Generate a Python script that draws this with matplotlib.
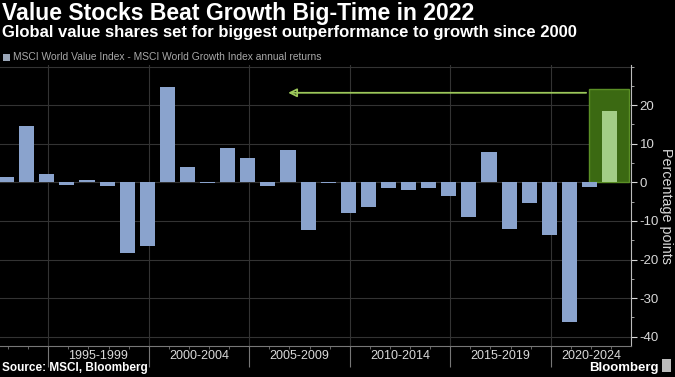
import numpy as np
import matplotlib.pyplot as plt
from matplotlib.patches import Rectangle
from matplotlib.transforms import blended_transform_factory

# annual value-minus-growth return spread, 1992..2022 (percentage points)
years = list(range(1992, 2023))
spread = [1.5, 14.7, 2.2, -0.7, 0.6, -0.9, -18.4, -16.6, 24.8, 4.0,
          -0.2, 8.8, 6.4, -1.0, 8.4, -12.3, -0.2, -7.9, -6.4, -1.4,
          -1.9, -1.5, -3.5, -8.9, 7.9, -12.2, -5.4, -13.7, -36.2, -1.1,
          18.6]
periods = ["1995-1999", "2000-2004", "2005-2009", "2010-2014", "2015-2019", "2020-2024"]
period_starts = [1995, 2000, 2005, 2010, 2015, 2020]
yticks = [20, 10, 0, -10, -20, -30, -40]

BG = "black"
BLUE = "#8aa3cd"
GREEN_BAR = "#a3cd86"
TXT = "#d9d9d9"
GRID = "#333333"

plt.rcParams["font.family"] = ["Liberation Sans", "DejaVu Sans"]

fig = plt.figure(figsize=(6.75, 3.77), dpi=100, facecolor=BG)
ax = fig.add_axes([0.0, 0.0822, 0.935, 0.7454], facecolor=BG)

# bloomberg plots annual points at year end
xpos = np.array(years) + 0.93
colors = [BLUE] * (len(years) - 1) + [GREEN_BAR]

# highlight box behind the 2022 bar
ax.add_patch(Rectangle((2021.9, 0), 1.98, 24.1, facecolor="#3b6912",
                       edgecolor="#5b8f26", lw=1.0, zorder=1))
ax.bar(xpos, spread, width=0.75, color=colors, zorder=2)

# arrow pointing back to 2000
ax.annotate("", xy=(2006.8, 23.2), xytext=(2021.9, 23.2),
            arrowprops=dict(arrowstyle="-|>,head_length=0.5,head_width=0.25",
                            color="#9cc75a", lw=1.3, fill=False),
            zorder=3)

# grid
for b in period_starts:
    ax.axvline(b, color=GRID, lw=0.8, zorder=0)
for v in range(30, -50, -10):
    ax.axhline(v, color=GRID, lw=0.8, zorder=0)

for s in ["top", "left"]:
    ax.spines[s].set_visible(False)
ax.spines["right"].set_color("#bbbbbb")
ax.spines["bottom"].set_color("#777777")

ax.yaxis.tick_right()
ax.set_yticks(yticks)
ax.set_yticklabels([str(t) for t in yticks])
ax.set_yticks(np.arange(-40, 31, 5), minor=True)
ax.tick_params(axis="y", which="major", colors=TXT, labelsize=9.5, length=4, pad=2)
ax.tick_params(axis="y", which="minor", colors="#bbbbbb", length=2.5)
ax.yaxis.set_label_position("right")
ax.set_ylabel("Percentage points", color=TXT, fontsize=10.3, rotation=-90, labelpad=10)

ax.set_xticks(period_starts)
ax.set_xticklabels([])
ax.set_xticks(np.arange(1993, 2024), minor=True)
ax.tick_params(axis="x", which="major", colors="#777777", length=15, width=0.8)
ax.tick_params(axis="x", which="minor", colors="#777777", length=2)

ax.set_xlim(1992.6, 2024.0)
ax.set_ylim(-42.4, 30.4)

# period labels centred on the visible part of each 5-year span
trans = blended_transform_factory(ax.transData, ax.transAxes)
xmax = ax.get_xlim()[1]
for p, s in zip(periods, period_starts):
    mid = (s + min(s + 5, xmax)) / 2
    ax.text(mid, -0.013, p, transform=trans, ha="center", va="top",
            color=TXT, fontsize=9)

# titles
fig.text(0.003, 0.995, "Value Stocks Beat Growth Big-Time in 2022", color="white",
         fontsize=16.6, fontweight="bold", ha="left", va="top")
fig.text(0.003, 0.935, "Global value shares set for biggest outperformance to growth since 2000",
         color="white", fontsize=12, fontweight="bold", ha="left", va="top")
fig.patches.append(Rectangle((0.005, 0.838), 0.010, 0.018, transform=fig.transFigure,
                             facecolor="#9aa6b8", edgecolor="none"))
fig.text(0.019, 0.848, "MSCI World Value Index - MSCI World Growth Index annual returns",
         color="#a8a8a8", fontsize=7.4, ha="left", va="center")

fig.text(0.003, 0.008, "Source: MSCI, Bloomberg", color="white", fontsize=8.5,
         fontweight="bold", ha="left", va="bottom")
fig.text(0.975, 0.008, "Bloomberg", color="white", fontsize=9.5,
         fontweight="bold", ha="right", va="bottom")
fig.patches.append(Rectangle((0.980, 0.012), 0.014, 0.035, transform=fig.transFigure,
                             facecolor="#bbbbbb", edgecolor="none"))

fig.savefig("out.png", dpi=100, facecolor=BG)
